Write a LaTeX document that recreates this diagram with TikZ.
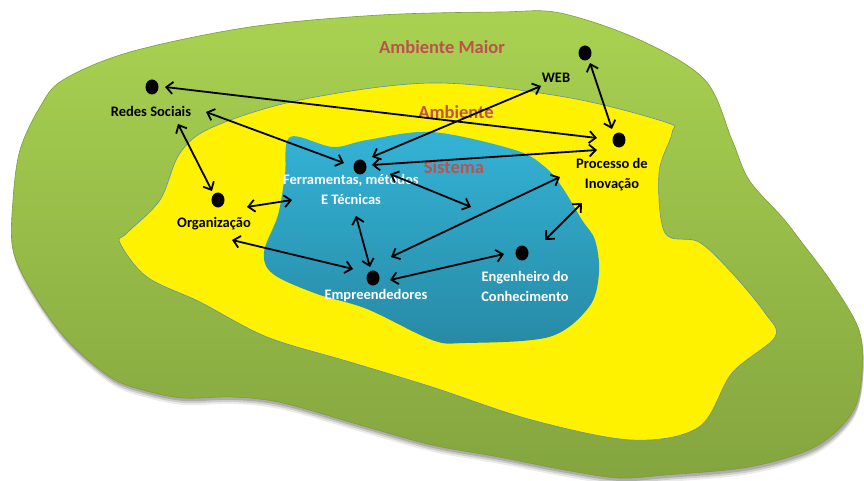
\documentclass[tikz,border=0pt]{standalone}
\usepackage{fontspec}
\setmainfont{Carlito}
\usetikzlibrary{arrows.meta,shapes.geometric}
\definecolor{titlered}{HTML}{C0504D}
\definecolor{greentop}{HTML}{A9D251}
\definecolor{greenbot}{HTML}{84A53F}
\definecolor{greenedge}{HTML}{7E9C3C}
\definecolor{bluetop}{HTML}{34B3D6}
\definecolor{bluebot}{HTML}{278AA6}
\definecolor{rimblue}{HTML}{5F8DB0}
\begin{document}
\begin{tikzpicture}[x=1pt,y=-1pt,
  dot/.style={ellipse,fill=black,inner sep=0pt,minimum width=13pt,minimum height=15pt},
  lbl/.style={font=\fontsize{14.5}{20}\selectfont\bfseries,align=center,inner sep=1pt},
  darklbl/.style={lbl,text=black},
  lightlbl/.style={lbl,text=white},
  zone/.style={font=\fontsize{18.5}{22}\selectfont\bfseries,text=titlered},
  arr/.style={line width=1.8pt,black,
    {Straight Barb[length=6.5pt,width=12pt,line width=1.8pt]}-{Straight Barb[length=6.5pt,width=12pt,line width=1.8pt]}}
]
\useasboundingbox (0,0) rectangle (864,481);

% outer region: soft drop shadow, then the bevelled green body
\def\outerblob{plot[smooth cycle,tension=0.55] coordinates {
  (63,80) (130,52) (250,27) (380,15) (500,12) (560,13) (640,40) (705,80)
  (732,140) (749,180) (782,217) (800,240) (832,283) (859,330) (862,373)
  (852,413) (815,447) (749,467) (665,475) (619,478) (565,470) (499,457)
  (432,445) (367,427) (283,403) (233,397) (183,398) (143,390) (110,377)
  (67,340) (33,293) (13,250) (13,200) (20,150) (40,107)}}
\foreach \s/\o in {7/0.08,5/0.12,3/0.16}
  \fill[black,opacity=\o,shift={(1,\s)}] \outerblob;
\shade[top color=greentop,bottom color=greenbot,draw=greenedge,line width=0.6pt] \outerblob;

% middle region
\fill[yellow,draw=rimblue,line width=0.6pt] plot[smooth cycle,tension=0.55] coordinates {
  (300,100) (432,83) (565,97) (665,122) (672,133) (659,173) (665,233)
  (699,242) (732,273) (765,313) (775,337) (732,373) (699,427) (632,440)
  (532,420) (432,387) (350,362) (267,337) (200,302) (147,277) (120,243)
  (127,233) (160,200) (180,153) (213,127)};

% inner region
\shade[top color=bluetop,bottom color=bluebot] plot[smooth cycle,tension=0.55] coordinates {
  (290,137) (333,147) (367,140) (432,132) (515,150) (545,167) (562,187)
  (582,220) (595,240) (599,273) (589,307) (549,337) (465,343) (432,340)
  (367,309) (317,294) (273,274) (264,252) (278,215) (285,175)};

% region titles
\node[zone] (tmaior) at (442,47) {Ambiente Maior};
\node[zone] (tamb) at (456,112) {Ambiente};
\node[zone] (tsis) at (454,167) {Sistema};

% actors
\node[dot] (rs) at (152,87) {};
\node[darklbl] (rsl) at (151,111) {Redes Sociais};
\node[dot] (org) at (218,200) {};
\node[darklbl] (orgl) at (214,224) {Organização};
\node[dot] (fm) at (360,167) {};
\node[lightlbl] (fml) at (351,189) {Ferramentas, métodos\\E Técnicas};
\node[dot] (web) at (585,53) {};
\node[darklbl] (webl) at (556,78) {WEB};
\node[dot] (pi) at (619,140) {};
\node[darklbl] (pil) at (612,175) {Processo de\\Inovação};
\node[dot] (emp) at (373,278) {};
\node[lightlbl] (empl) at (376,296) {Empreendedores};
\node[dot] (eng) at (522,253) {};
\node[lightlbl] (engl) at (525,286) {Engenheiro do\\Conhecimento};

% connector ports
\coordinate (rs-e) at (165,87);
\coordinate (rsl-e) at (206,112);
\coordinate (rsl-s) at (178,124);
\coordinate (org-n) at (212,191);
\coordinate (org-e) at (247,207);
\coordinate (orgl-e) at (232,240);
\coordinate (fml-w) at (292,200);
\coordinate (fm-w) at (344,163);
\coordinate (fm-ne) at (372,157);
\coordinate (fm-e) at (372,165);
\coordinate (fml-ne) at (390,174);
\coordinate (fml-s) at (356,216);
\coordinate (mid-e) at (471,207);
\coordinate (webl-sw) at (541,86);
\coordinate (web-s) at (590,63);
\coordinate (pi-n) at (612,129);
\coordinate (pi-w1) at (597,138);
\coordinate (pi-w2) at (597,150);
\coordinate (pil-sw1) at (560,177);
\coordinate (pil-sw2) at (582,203);
\coordinate (emp-w) at (353,269);
\coordinate (emp-n) at (370,267);
\coordinate (emp-ne) at (391,257);
\coordinate (emp-e) at (390,280);
\coordinate (eng-w) at (504,254);
\coordinate (eng-ne) at (545,240);

% relations
\draw[arr] (rs-e) -- (pi-w1);
\draw[arr] (rsl-e) -- (fm-w);
\draw[arr] (rsl-s) -- (org-n);
\draw[arr] (org-e) -- (fml-w);
\draw[arr] (orgl-e) -- (emp-w);
\draw[arr] (fm-ne) -- (webl-sw);
\draw[arr] (fm-e) -- (pi-w2);
\draw[arr] (fml-ne) -- (mid-e);
\draw[arr] (fml-s) -- (emp-n);
\draw[arr] (emp-ne) -- (pil-sw1);
\draw[arr] (emp-e) -- (eng-w);
\draw[arr] (eng-ne) -- (pil-sw2);
\draw[arr] (web-s) -- (pi-n);
\end{tikzpicture}
\end{document}
